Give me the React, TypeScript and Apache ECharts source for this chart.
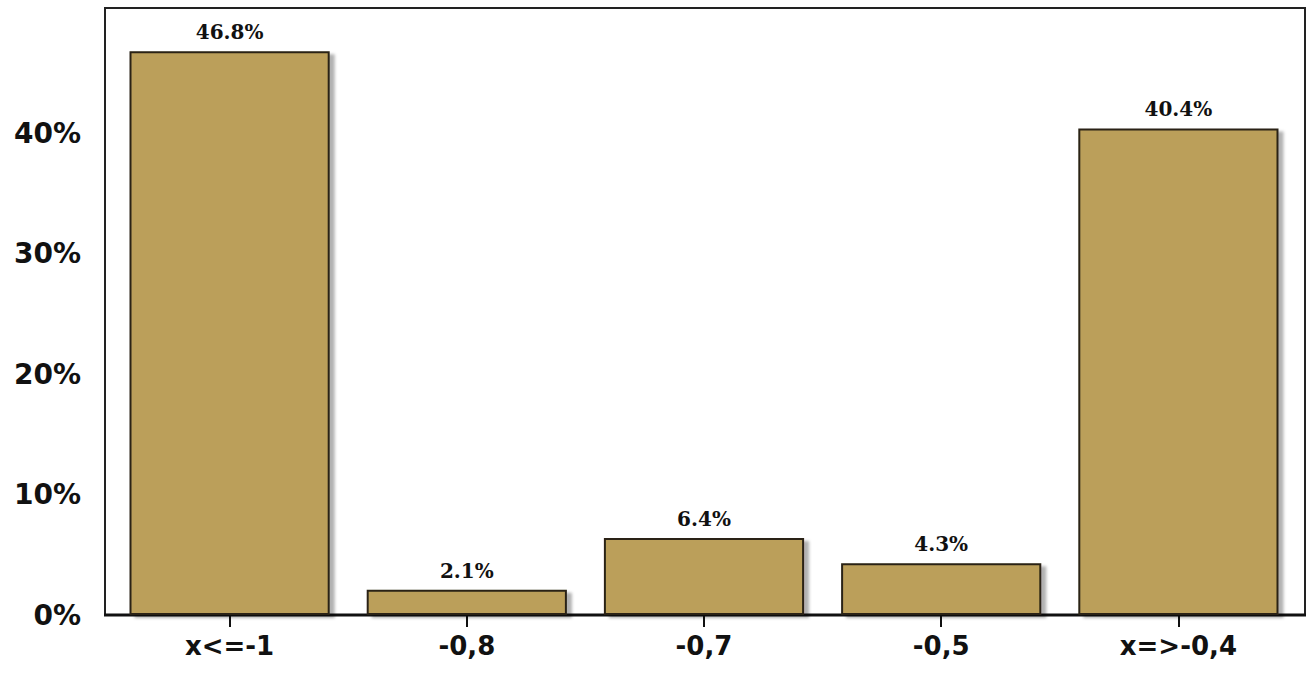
import { useEffect, useRef } from 'react';
import * as echarts from 'echarts';

const categories = ['x<=-1', '-0,8', '-0,7', '-0,5', 'x=>-0,4'];
const values = [46.8, 2.1, 6.4, 4.3, 40.4];

const App = () => {
  const chartRef = useRef<HTMLDivElement>(null);

  useEffect(() => {
    if (!chartRef.current) return;
    const chart = echarts.init(chartRef.current, undefined, { renderer: 'svg' });

    chart.setOption({
      animation: false,
      // frame around the plot, slightly wider than the category band
      graphic: [
        {
          type: 'rect',
          shape: { x: 105, y: 8, width: 1200, height: 607 },
          style: { fill: 'none', stroke: '#222', lineWidth: 2 },
          silent: true,
        },
        {
          type: 'line',
          shape: { x1: 104, y1: 615, x2: 1306, y2: 615 },
          style: { stroke: '#111', lineWidth: 3 },
          silent: true,
        },
      ],
      grid: { left: 111, right: 10, top: 8, bottom: 62 },
      xAxis: {
        type: 'category',
        data: categories,
        axisLine: { show: false },
        axisTick: { show: true, alignWithLabel: true, length: 12, lineStyle: { color: '#111', width: 2 } },
        axisLabel: {
          color: '#111',
          fontFamily: 'DejaVu Sans',
          fontWeight: 'bold',
          fontSize: 26,
          margin: 18,
        },
      },
      yAxis: {
        type: 'value',
        min: 0,
        max: 50.4,
        interval: 10,
        splitLine: { show: false },
        axisLine: { show: false },
        axisTick: { show: false },
        axisLabel: {
          color: '#111',
          fontFamily: 'DejaVu Sans',
          fontWeight: 'bold',
          fontSize: 28,
          margin: 30,
          formatter: (v: number) => (v > 45 ? '' : `${v}%`),
        },
      },
      series: [
        {
          type: 'bar',
          data: values,
          barCategoryGap: '15.6%',
          itemStyle: {
            color: '#bb9f5a',
            borderColor: '#2a2415',
            borderWidth: 2,
            shadowColor: 'rgba(0,0,0,0.3)',
            shadowOffsetX: 5,
            shadowOffsetY: 3,
            shadowBlur: 3,
          },
          label: {
            show: true,
            position: 'top',
            distance: 9,
            color: '#111',
            fontFamily: 'DejaVu Serif',
            fontWeight: 'bold',
            fontSize: 20,
            formatter: (p: any) => `${p.value.toFixed(1)}%`,
          },
        },
      ],
    });

    return () => chart.dispose();
  }, []);

  return (
    <div
      ref={chartRef}
      style={{ position: 'fixed', left: 0, top: 0, width: 1307, height: 677, background: '#fff' }}
    />
  );
};

export default App;
